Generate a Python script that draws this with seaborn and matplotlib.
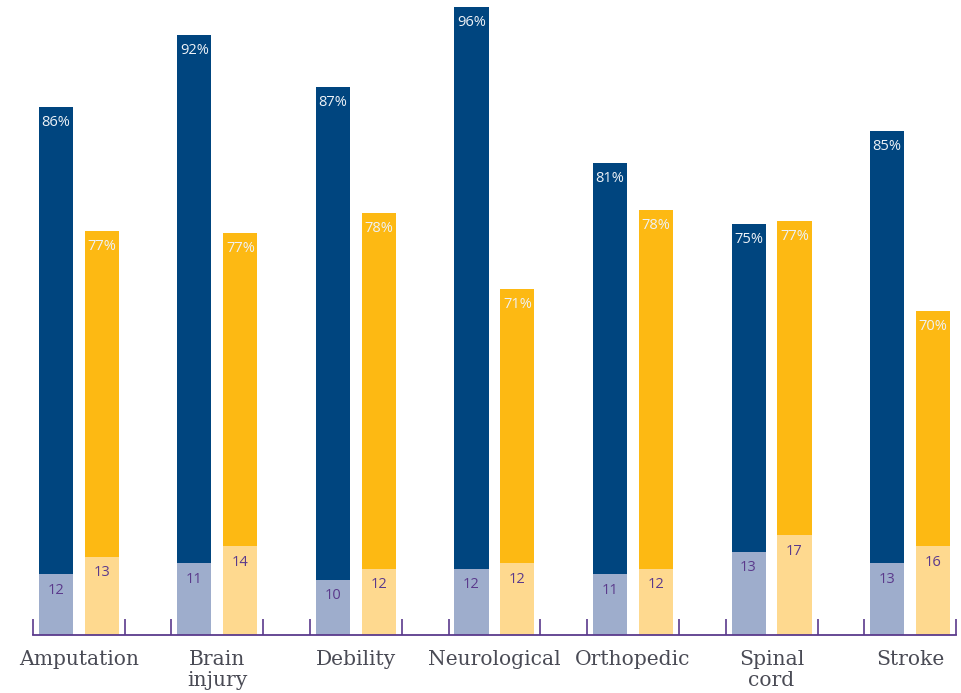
import matplotlib
matplotlib.use("Agg")
import matplotlib.pyplot as plt
import seaborn as sns
import pandas as pd
import numpy as np

# ---- data ----
categories = ["Amputation", "Brain\ninjury", "Debility", "Neurological",
              "Orthopedic", "Spinal\ncord", "Stroke"]
blue_pct_labels = [86, 92, 87, 96, 81, 75, 85]
yellow_pct_labels = [77, 77, 78, 71, 78, 77, 70]
blue_base_labels = [12, 11, 10, 12, 11, 13, 13]
yellow_base_labels = [13, 14, 12, 12, 12, 17, 16]
# drawn bar heights as they appear (0-100 scale of the plot area)
blue_height = [83.1, 94.5, 86.3, 98.9, 74.3, 64.7, 79.4]
yellow_height = [63.6, 63.3, 66.5, 54.5, 66.9, 65.2, 51.0]
blue_base_height = [9.6, 11.3, 8.7, 10.4, 9.6, 13.1, 11.3]
yellow_base_height = [12.3, 14.0, 10.4, 11.3, 10.4, 15.7, 14.0]

DARK_BLUE = "#00457f"
LIGHT_BLUE = "#9eadcc"
YELLOW = "#fdb913"
LIGHT_YELLOW = "#fed98f"
PURPLE = "#5b3a8c"
TEXT_GRAY = "#4a4b55"
LABEL_WHITE = "#eef2f7"

sns.set_theme(style="white")
plt.rcParams["font.family"] = ["Open Sans", "DejaVu Sans"]

tot = pd.DataFrame({
    "category": categories * 2,
    "series": ["blue"] * 7 + ["yellow"] * 7,
    "height": blue_height + yellow_height,
})
base = pd.DataFrame({
    "category": categories * 2,
    "series": ["blue"] * 7 + ["yellow"] * 7,
    "height": blue_base_height + yellow_base_height,
})

fig = plt.figure(figsize=(9.61, 6.93), dpi=100)
ax = fig.add_axes([0, 58 / 693, 1, 635 / 693])

W, G = 0.664, 0.26
sns.barplot(data=tot, x="category", y="height", hue="series",
            palette=[DARK_BLUE, YELLOW], width=W, gap=G, saturation=1,
            legend=False, ax=ax, errorbar=None, linewidth=0, edgecolor="none")
sns.barplot(data=base, x="category", y="height", hue="series",
            palette=[LIGHT_BLUE, LIGHT_YELLOW], width=W, gap=G, saturation=1,
            legend=False, ax=ax, errorbar=None, linewidth=0, edgecolor="none")

# labels
top_labels = [blue_pct_labels, yellow_pct_labels]
bot_labels = [blue_base_labels, yellow_base_labels]
for ci, labs in enumerate(top_labels):
    for p, v in zip(ax.containers[ci].patches, labs):
        ax.annotate(f"{v}%", (p.get_x() + p.get_width() / 2, p.get_height()),
                    xytext=(0, -11), textcoords="offset points",
                    ha="center", va="center", fontsize=10.5, color=LABEL_WHITE)
for ci, labs in enumerate(bot_labels):
    for p, v in zip(ax.containers[ci + 2].patches, labs):
        ax.annotate(f"{v}", (p.get_x() + p.get_width() / 2, p.get_height()),
                    xytext=(0, -11.5), textcoords="offset points",
                    ha="center", va="center", fontsize=10.5, color=PURPLE)

ax.set_xlim(-0.570, 6.368)
ax.set_ylim(0, 100)
ax.set_xlabel("")
ax.set_ylabel("")
ax.set_yticks([])
for s in ["left", "top", "right"]:
    ax.spines[s].set_visible(False)
ax.spines["bottom"].set_color(PURPLE)
ax.spines["bottom"].set_linewidth(1.3)
ax.spines["bottom"].set_bounds(-0.332, 6.332)

half = W / 2
minor = sorted([i - half for i in range(7)] + [i + half for i in range(7)])
ax.set_xticks(minor, minor=True)
ax.tick_params(axis="x", which="minor", direction="in", length=11.5,
               width=1.2, color=PURPLE, bottom=True)
ax.tick_params(axis="x", which="major", length=0, pad=11)
ax.set_xticks(range(7))
ax.set_xticklabels(categories, fontsize=14.6, color=TEXT_GRAY,
                   family=["DejaVu Serif"], linespacing=1.1)

fig.savefig("out.png", dpi=100)
